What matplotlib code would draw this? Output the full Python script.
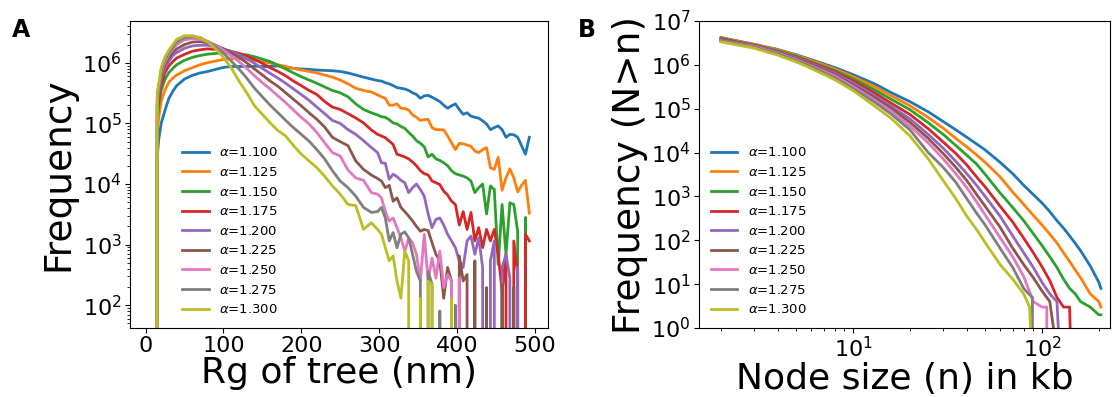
import numpy as np
import matplotlib.pyplot as plt
from matplotlib.ticker import LogLocator

alpha_labels = ['1.100', '1.125', '1.150', '1.175', '1.200', '1.225', '1.250', '1.275', '1.300']

# panel A: histogram of tree Rg (bin centres in nm)
rg_nm = [13, 15, 17, 20, 25, 30, 35, 40, 50, 60, 70, 80, 90, 100, 110, 120, 130, 140, 150,
         160, 170, 180, 190, 200, 210, 220, 230, 240, 250, 260, 270, 280, 290,
         298, 303, 308, 313, 318, 323, 328, 333, 338, 343, 348, 353, 358, 363, 368, 373,
         378, 383, 388, 393, 398, 403, 408, 413, 418, 423, 428, 433, 438, 443, 448, 453,
         458, 463, 468, 473, 478, 483, 488, 493]

rg_110 = [0, 2.8e4, 5.6e4, 1.0e5, 1.66e5, 2.6e5, 3.4e5, 4.2e5, 5.4e5, 6.2e5, 6.8e5, 7.2e5,
          7.8e5, 8.4e5, 8.7e5, 8.7e5, 8.7e5, 8.8e5, 8.7e5, 8.7e5, 8.9e5, 8.5e5, 8.1e5, 7.9e5,
          7.8e5, 7.6e5, 7.5e5, 7.4e5, 7.2e5, 6.8e5, 6.3e5, 5.8e5, 5.4e5,
          5.1e5, 5.0e5, 4.7e5, 4.5e5, 4.2e5, 3.9e5, 3.8e5, 3.7e5, 3.5e5, 3.2e5,
          3.0e5, 2.6e5, 2.85e5, 2.9e5, 2.7e5, 2.5e5, 2.3e5, 2.0e5, 1.78e5, 1.95e5,
          2.1e5, 1.7e5, 1.41e5, 1.5e5, 1.32e5, 1.26e5, 1.22e5, 1.1e5, 9.8e4, 7.9e4,
          8.5e4, 9.1e4, 7.9e4, 5.9e4, 6.6e4, 6.5e4, 5.9e4, 4.3e4, 3.1e4, 5.9e4]
rg_1125 = [0, 7.1e4, 1.26e5, 2.3e5, 3.6e5, 4.8e5, 5.6e5, 6.3e5, 7.4e5, 8.3e5, 9.3e5, 1.01e6,
           1.07e6, 1.14e6, 1.17e6, 1.17e6, 1.15e6, 1.1e6, 1.05e6, 9.9e5, 9.3e5, 8.7e5, 8.1e5,
           7.6e5, 7.2e5, 6.8e5, 6.3e5, 5.8e5, 5.2e5, 4.5e5, 3.8e5, 3.5e5, 3.3e5,
           2.95e5, 2.75e5, 2.6e5, 2.0e5, 2.0e5, 2.1e5, 1.78e5, 1.76e5, 1.66e5, 1.38e5,
           1.26e5, 1.12e5, 1.15e5, 1.17e5, 8.5e4, 7.9e4, 7.9e4, 7.8e4, 6.2e4, 4.8e4,
           3.7e4, 4.7e4, 4.6e4, 4.4e4, 4.2e4, 3.5e4, 3.3e4, 3.7e4, 4.0e4, 1.86e4,
           1.74e4, 2.75e4, 7.9e3, 1.26e4, 1.78e4, 1.26e4, 7.4e3, 9.5e3, 1.15e4, 3.3e3]
rg_115 = [0, 1.12e5, 2.0e5, 3.5e5, 5.4e5, 6.9e5, 8.1e5, 9.3e5, 1.1e6, 1.23e6, 1.32e6, 1.39e6,
          1.43e6, 1.45e6, 1.45e6, 1.41e6, 1.35e6, 1.26e6, 1.15e6, 1.05e6, 9.1e5, 7.9e5, 6.8e5,
          5.9e5, 5.2e5, 4.6e5, 4.0e5, 3.5e5, 3.2e5, 2.75e5, 2.1e5, 1.7e5, 1.5e5,
          1.38e5, 1.29e5, 1.26e5, 1.15e5, 1.02e5, 9.8e4, 8.9e4, 8.3e4, 7.1e4, 6.2e4,
          5.2e4, 4.7e4, 4.1e4, 2.8e4, 3.1e4, 2.6e4, 2.45e4, 2.24e4, 2.0e4, 1.66e4,
          1.48e4, 1.41e4, 1.35e4, 1.26e4, 1.12e4, 7.2e3, 8.7e3, 1.0e4, 3.2e3, 9.3e3,
          8.1e3, 470, 4.6e3, 690, 4.9e3, 4.6e3, 1.66e3, 0, 2.8e3, 0]
rg_1175 = [0, 1.58e5, 2.6e5, 4.5e5, 6.9e5, 8.9e5, 1.05e6, 1.2e6, 1.38e6, 1.55e6, 1.64e6, 1.7e6,
           1.66e6, 1.62e6, 1.55e6, 1.43e6, 1.29e6, 1.14e6, 9.8e5, 8.3e5, 7.2e5, 6.1e5, 5.0e5,
           4.2e5, 3.5e5, 3.0e5, 2.3e5, 1.86e5, 1.7e5, 1.45e5, 1.23e5, 1.02e5, 7.8e4,
           6.6e4, 6.2e4, 5.8e4, 5.1e4, 4.5e4, 3.1e4, 2.95e4, 2.8e4, 2.6e4, 2.3e4,
           2.0e4, 1.66e4, 1.48e4, 1.41e4, 1.12e4, 1.05e4, 9.8e3, 7.6e3, 6.6e3, 5.2e3,
           4.6e3, 2.1e3, 3.5e3, 1.78e3, 3.4e3, 1.15e3, 1.9e3, 890, 1.78e3, 1.15e3,
           1.78e3, 690, 170, 690, 0, 1.15e3, 320, 0, 1.48e3, 1.15e3]
rg_120 = [0, 2.0e5, 3.2e5, 5.4e5, 8.3e5, 1.07e6, 1.32e6, 1.48e6, 1.74e6, 1.9e6, 1.95e6, 1.95e6,
          1.84e6, 1.7e6, 1.55e6, 1.35e6, 1.17e6, 9.8e5, 8.1e5, 6.7e5, 5.6e5, 4.6e5, 3.7e5,
          3.0e5, 2.4e5, 1.86e5, 1.45e5, 1.12e5, 1.0e5, 7.9e4, 6.6e4, 5.2e4, 4.0e4,
          3.3e4, 2.24e4, 2.2e4, 1.2e4, 1.45e4, 1.32e4, 1.15e4, 1.05e4, 7.2e3, 8.7e3,
          1.0e4, 8.1e3, 6.3e3, 3.2e3, 1.9e3, 2.6e3, 2.75e3, 2.1e3, 1.48e3, 1.15e3,
          890, 540, 420, 1.15e3, 1.38e3, 690, 1.29e3, 420, 0, 540,
          1.15e3, 0, 420, 690, 280, 0, 420, 0, 0, 0]
rg_1225 = [0, 2.2e5, 3.5e5, 6.2e5, 9.5e5, 1.23e6, 1.48e6, 1.7e6, 2.0e6, 2.2e6, 2.24e6, 2.14e6,
           1.95e6, 1.7e6, 1.45e6, 1.23e6, 1.0e6, 7.9e5, 6.3e5, 5.0e5, 4.1e5, 3.2e5, 2.5e5,
           1.95e5, 1.5e5, 1.17e5, 8.7e4, 5.9e4, 5.0e4, 4.3e4, 2.4e4, 1.74e4, 1.41e4,
           1.23e4, 1.12e4, 8.7e3, 9.5e3, 5.2e3, 5.9e3, 4.1e3, 3.5e3, 2.95e3, 2.45e3,
           2.0e3, 1.66e3, 1.78e3, 1.7e3, 1.07e3, 690, 540, 130, 420, 250,
           0, 650, 250, 320, 0, 540, 0, 0, 195, 0,
           0, 0, 220, 0, 0, 200, 0, 0, 0, 0]
rg_125 = [0, 2.5e5, 4.0e5, 6.9e5, 1.05e6, 1.38e6, 1.7e6, 2.0e6, 2.4e6, 2.5e6, 2.45e6, 2.24e6,
          1.95e6, 1.62e6, 1.3e6, 1.05e6, 8.1e5, 6.1e5, 4.7e5, 3.7e5, 2.85e5, 2.2e5, 1.66e5,
          1.26e5, 9.8e4, 7.1e4, 4.8e4, 3.3e4, 2.9e4, 1.7e4, 1.26e4, 1.15e4, 7.2e3,
          6.8e3, 5.9e3, 3.5e3, 2.45e3, 2.75e3, 1.9e3, 1.29e3, 780, 1.29e3, 1.07e3,
          690, 250, 1.48e3, 250, 600, 280, 780, 195, 320, 250,
          0, 280, 0, 0, 0, 0, 0, 0, 0, 0,
          0, 0, 0, 0, 0, 0, 0, 0, 0, 0]
rg_1275 = [0, 2.8e5, 4.3e5, 7.4e5, 1.15e6, 1.48e6, 1.82e6, 2.24e6, 2.6e6, 2.7e6, 2.6e6, 2.24e6,
           1.84e6, 1.45e6, 1.07e6, 7.9e5, 5.6e5, 3.8e5, 2.75e5, 2.0e5, 1.5e5, 1.12e5, 8.5e4,
           6.6e4, 5.1e4, 3.7e4, 2.6e4, 1.66e4, 1.12e4, 8.7e3, 6.3e3, 4.1e3, 3.4e3,
           3.5e3, 4.1e3, 2.75e3, 1.15e3, 1.58e3, 890, 1.48e3, 1.62e3, 1.29e3, 690,
           360, 250, 0, 360, 220, 0, 80, 0, 0, 0,
           100, 0, 0, 0, 0, 0, 0, 0, 0, 0,
           0, 0, 0, 0, 0, 0, 0, 0, 0, 0]
rg_130 = [0, 3.2e5, 4.6e5, 8.3e5, 1.26e6, 1.62e6, 2.0e6, 2.45e6, 2.8e6, 2.8e6, 2.6e6, 2.2e6,
          1.7e6, 1.23e6, 8.3e5, 5.0e5, 3.2e5, 1.95e5, 1.41e5, 1.02e5, 7.6e4, 6.2e4, 4.3e4,
          3.1e4, 2.4e4, 1.86e4, 1.35e4, 9.3e3, 6.8e3, 4.6e3, 4.4e3, 1.78e3, 2.3e3,
          1.78e3, 1.48e3, 890, 540, 650, 250, 130, 780, 540, 0,
          0, 130, 0, 250, 220, 0, 0, 0, 0, 125,
          0, 0, 0, 0, 0, 0, 0, 0, 0, 0,
          0, 0, 0, 0, 0, 0, 0, 0, 0, 0]

# panel B: cumulative count of nodes larger than n (kb)
size_110 = [2, 3, 4, 5, 6, 8, 10, 13, 16, 20, 25, 30, 35, 40, 45, 50, 60, 70, 80, 90, 100,
            110, 120, 130, 140, 150, 160, 180, 200, 205]
cum_110 = [4.2e6, 2.95e6, 2.24e6, 1.7e6, 1.32e6, 8.7e5, 6.0e5, 3.7e5, 2.3e5, 1.45e5, 8.5e4,
           5.1e4, 3.3e4, 2.24e4, 1.58e4, 1.15e4, 6.0e3, 3.3e3, 1.8e3, 1.1e3, 710, 450, 280,
           190, 126, 85, 58, 26, 11, 8]
size_1125 = [2, 3, 4, 5, 6, 8, 10, 13, 16, 20, 25, 30, 35, 40, 45, 50, 60, 70, 80, 90, 100,
             110, 120, 130, 140, 150, 160, 180, 200, 205]
cum_1125 = [4.1e6, 2.9e6, 2.2e6, 1.66e6, 1.26e6, 8.1e5, 5.4e5, 3.2e5, 1.95e5, 1.17e5, 6.3e4,
            3.6e4, 2.1e4, 1.35e4, 8.9e3, 6.0e3, 2.8e3, 1.26e3, 660, 370, 224, 138, 87, 52,
            33, 21, 14, 6, 4, 3]
size_115 = [2, 3, 4, 5, 6, 8, 10, 13, 16, 20, 25, 30, 35, 40, 45, 50, 60, 70, 80, 90, 100,
            110, 120, 130, 140, 150, 160, 180, 200, 205]
cum_115 = [4.0e6, 2.8e6, 2.1e6, 1.58e6, 1.17e6, 7.4e5, 4.8e5, 2.7e5, 1.62e5, 9.5e4, 4.8e4,
           2.6e4, 1.45e4, 8.7e3, 5.5e3, 3.2e3, 1.2e3, 560, 280, 141, 76, 42, 24, 13, 8, 6, 4,
           3, 2, 2]
size_1175 = [2, 3, 4, 5, 6, 8, 10, 13, 16, 20, 25, 30, 35, 40, 45, 50, 60, 70, 80, 90, 100,
             110, 120, 130, 140, 141]
cum_1175 = [3.9e6, 2.75e6, 2.0e6, 1.5e6, 1.12e6, 6.9e5, 4.3e5, 2.3e5, 1.32e5, 7.4e4, 3.5e4,
            1.74e4, 9.5e3, 5.2e3, 2.8e3, 1.66e3, 600, 260, 112, 52, 25, 12, 5, 3, 3, 1]
size_120 = [2, 3, 4, 5, 6, 8, 10, 13, 16, 20, 25, 30, 35, 40, 45, 50, 60, 70, 80, 90, 100,
            110, 120, 122]
cum_120 = [3.75e6, 2.7e6, 2.0e6, 1.45e6, 1.07e6, 6.5e5, 3.9e5, 2.0e5, 1.12e5, 5.9e4, 2.6e4,
           1.26e4, 6.3e3, 3.3e3, 1.8e3, 1.0e3, 355, 126, 52, 24, 11, 6, 4, 1]
size_1225 = [2, 3, 4, 5, 6, 8, 10, 13, 16, 20, 25, 30, 35, 40, 45, 50, 60, 70, 80, 90, 100,
             110, 115]
cum_1225 = [3.7e6, 2.6e6, 1.95e6, 1.38e6, 1.02e6, 6.0e5, 3.5e5, 1.78e5, 1.0e5, 4.9e4, 2.1e4,
            9.5e3, 4.6e3, 2.3e3, 1.12e3, 600, 200, 66, 28, 14, 7, 4, 1]
size_125 = [2, 3, 4, 5, 6, 8, 10, 13, 16, 20, 25, 30, 35, 40, 45, 50, 60, 70, 80, 90, 100,
            106, 106]
cum_125 = [3.55e6, 2.6e6, 1.86e6, 1.32e6, 9.5e5, 5.6e5, 3.2e5, 1.58e5, 8.7e4, 4.0e4, 1.66e4,
           7.2e3, 3.3e3, 1.58e3, 760, 380, 115, 42, 15, 4, 3, 3, 1]
size_1275 = [2, 3, 4, 5, 6, 8, 10, 13, 16, 20, 25, 30, 35, 40, 45, 50, 60, 70, 80, 85, 89, 89]
cum_1275 = [3.5e6, 2.5e6, 1.78e6, 1.26e6, 9.1e5, 5.1e5, 2.9e5, 1.41e5, 7.4e4, 3.3e4, 1.0e4,
            4.6e3, 2.1e3, 890, 420, 224, 66, 24, 8, 6, 5, 1]
size_130 = [2, 3, 4, 5, 6, 8, 10, 13, 16, 20, 25, 30, 35, 40, 45, 50, 60, 70, 80, 86, 87]
cum_130 = [3.35e6, 2.4e6, 1.66e6, 1.17e6, 8.3e5, 4.6e5, 2.6e5, 1.15e5, 5.9e4, 2.4e4, 7.2e3,
           2.3e3, 890, 355, 178, 89, 28, 13, 6, 3, 1]

rg_series = [rg_110, rg_1125, rg_115, rg_1175, rg_120, rg_1225, rg_125, rg_1275, rg_130]
size_series = [size_110, size_1125, size_115, size_1175, size_120, size_1225, size_125,
               size_1275, size_130]
cum_series = [cum_110, cum_1125, cum_115, cum_1175, cum_120, cum_1225, cum_125, cum_1275,
              cum_130]

fig = plt.figure(figsize=(11.15, 3.97), dpi=100)
ax1 = fig.add_axes([0.1166, 0.1738, 0.3749, 0.7733])
ax2 = fig.add_axes([0.6269, 0.1738, 0.3686, 0.7733])

ax1.set_yscale('log')
for lab, vals in zip(alpha_labels, rg_series):
    ax1.plot(rg_nm, vals, lw=2, label=r'$\alpha$=' + lab)
ax1.set_xlim(-20, 517)
ax1.set_ylim(42, 4.9e6)
ax1.set_xlabel('Rg of tree (nm)', fontsize=26, labelpad=0)
ax1.set_ylabel('Frequency', fontsize=27)
ax1.tick_params(labelsize=16, pad=2.5)
ax1.legend(loc='lower left', bbox_to_anchor=(0.097, 0.0), frameon=False, fontsize=9.5)

for lab, n, c in zip(alpha_labels, size_series, cum_series):
    ax2.loglog(n, c, lw=2, label=r'$\alpha$=' + lab)
ax2.set_xlim(1.53, 229)
ax2.set_ylim(1, 1e7)
ax2.yaxis.set_major_locator(LogLocator(base=10, numticks=12))
ax2.set_xlabel('Node size (n) in kb', fontsize=26, labelpad=0)
ax2.set_ylabel('Frequency (N>n)', fontsize=27, labelpad=2)
ax2.tick_params(labelsize=16, pad=2.5)
ax2.legend(loc='lower left', frameon=False, fontsize=9.5)

fig.text(0.0108, 0.955, 'A', fontsize=17, fontweight='bold', va='top')
fig.text(0.518, 0.955, 'B', fontsize=17, fontweight='bold', va='top')

fig.savefig('out.png', dpi=100)
